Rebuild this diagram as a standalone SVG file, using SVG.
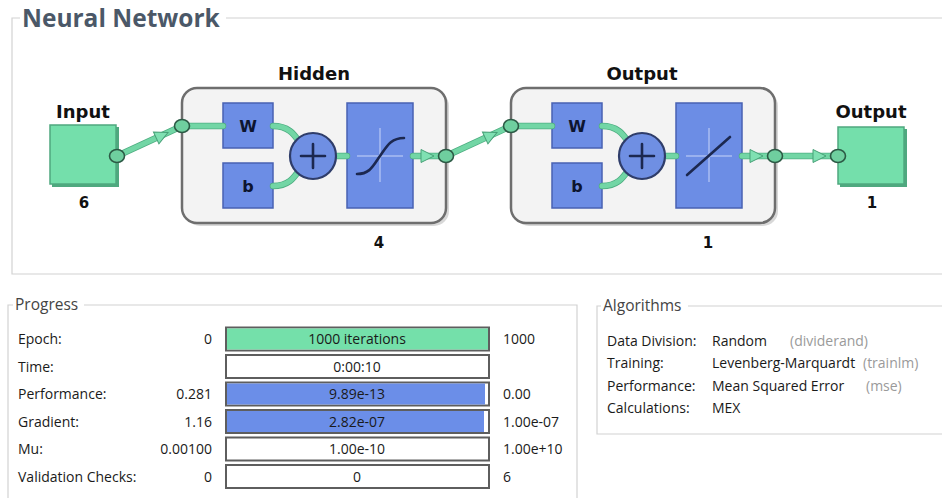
<svg xmlns="http://www.w3.org/2000/svg" width="942" height="498" viewBox="0 0 942 498">
<style>
.frame{fill:none;stroke:#d2d2d2;stroke-width:1.2}
.title{font-family:"Open Sans","Noto Sans",sans-serif;font-weight:bold;font-size:24.5px;fill:#4b5868}
.grp{font-family:"Open Sans","Noto Sans",sans-serif;font-size:15.5px;fill:#444}
.lbl{font-family:"DejaVu Sans",sans-serif;font-weight:bold;font-size:18px;fill:#111}
.num{font-family:"DejaVu Sans",sans-serif;font-weight:bold;font-size:15px;fill:#111;text-anchor:middle}
.io{fill:#74dfab;stroke:#4fa87f;stroke-width:1.5}
.layer{fill:#f3f3f3;stroke:#6e6e6e;stroke-width:2.5}
.shadow{fill:#d8d8d8}
.blue{fill:#6c8de5;stroke:#4862b3;stroke-width:1.5}
.wb{font-family:"DejaVu Sans",sans-serif;font-weight:bold;font-size:16px;fill:#0d1530;text-anchor:middle}
.sum{fill:#6f8fe3;stroke:#2f3d6a;stroke-width:2.2}
.ink{fill:none;stroke:#1c2850;stroke-width:2.6;stroke-linecap:round}
.cross{fill:none;stroke:#a9bdf2;stroke-width:1.5}
.conn{fill:none;stroke:#72d6a5;stroke-width:5;stroke-linecap:round}
.connE{fill:none;stroke:#4fae82;stroke-width:6.5;stroke-linecap:round}
.dot{fill:#6fcf9f;stroke:#2c5a45;stroke-width:1.6}
.arr{fill:#7fe0b2;stroke:#47a077;stroke-width:1}
.t{font-family:"Open Sans","Noto Sans",sans-serif;font-size:14px;fill:#1a1a1a}
.tr{font-family:"Open Sans","Noto Sans",sans-serif;font-size:14px;fill:#1a1a1a;text-anchor:end}
.tc{font-family:"Open Sans","Noto Sans",sans-serif;font-size:14px;fill:#1a1a1a;text-anchor:middle}
.tg{font-family:"Open Sans","Noto Sans",sans-serif;font-size:14px;fill:#9a9a9a}
.bar{fill:#ffffff;stroke:#5e5e5e;stroke-width:2}
.green{fill:#74e0aa}
.bfill{fill:#6b8ee8}
</style>
<defs>
<path id="ah" d="M0,0 L-13,-6.5 L-13,6.5 Z"/>
</defs>
<rect width="942" height="498" fill="#ffffff"/>

<!-- Neural Network frame -->
<g id="nn-frame">
<path class="frame" d="M20,18 H12 V274 H942 M226,18 H942"/>
<text class="title" x="22" y="27">Neural Network</text>
</g>

<!-- Input node -->
<g id="input">
<text class="lbl" x="83" y="118" text-anchor="middle">Input</text>
<rect x="52" y="127" width="67" height="60" fill="#4fa87f"/>
<rect class="io" x="50" y="125" width="66" height="59"/>
<text class="num" x="84" y="208">6</text>
</g>

<!-- Hidden layer -->
<g id="hidden">
<text class="lbl" x="314" y="80" text-anchor="middle">Hidden</text>
<rect class="shadow" x="185" y="91" width="264" height="135" rx="15"/>
<rect class="layer" x="182" y="88" width="264" height="135" rx="15"/>
<rect class="blue" x="223" y="103" width="50" height="45"/>
<text class="wb" x="248" y="132">W</text>
<rect class="blue" x="223" y="163" width="50" height="45"/>
<text class="wb" x="248" y="192">b</text>
<rect class="blue" x="347" y="103" width="66" height="105"/>
<path class="cross" d="M380,128 V182 M357,156 H403"/>
<path class="ink" d="M357,174 C370,174 373,166 380,156 S391,138 404,138"/>
<text class="num" x="379" y="248">4</text>
</g>

<!-- Output layer -->
<g id="output-layer">
<text class="lbl" x="642" y="80" text-anchor="middle">Output</text>
<rect class="shadow" x="514" y="91" width="264" height="135" rx="15"/>
<rect class="layer" x="511" y="88" width="264" height="135" rx="15"/>
<rect class="blue" x="552" y="103" width="50" height="45"/>
<text class="wb" x="577" y="132">W</text>
<rect class="blue" x="552" y="163" width="50" height="45"/>
<text class="wb" x="577" y="192">b</text>
<rect class="blue" x="676" y="103" width="66" height="105"/>
<path class="cross" d="M709,128 V182 M686,156 H732"/>
<path class="ink" d="M687,175 L730,137"/>
<text class="num" x="708" y="248">1</text>
</g>

<!-- Output node -->
<g id="output">
<text class="lbl" x="871" y="118" text-anchor="middle">Output</text>
<rect x="840" y="129" width="67" height="58" fill="#4fa87f"/>
<rect class="io" x="838" y="127" width="66" height="57"/>
<text class="num" x="872" y="208">1</text>
</g>

<!-- connectors (lines, arrowheads, summing junctions and ports) -->
<g id="connectors">
<path class="connE" d="M117,156 L182,126 M446,156 L511,126 M775,156 H838 M182,126 H223 M273,126 C290,126 295,136 300,143 M273,186 C290,186 295,176 300,169 M336,156 H347 M413,156 H446 M511,126 H552 M602,126 C619,126 624,136 629,143 M602,186 C619,186 624,176 629,169 M665,156 H676 M742,156 H775"/>
<path class="conn" d="M117,156 L182,126 M446,156 L511,126 M775,156 H838 M182,126 H223 M273,126 C290,126 295,136 300,143 M273,186 C290,186 295,176 300,169 M336,156 H347 M413,156 H446 M511,126 H552 M602,126 C619,126 624,136 629,143 M602,186 C619,186 624,176 629,169 M665,156 H676 M742,156 H775"/>
<use href="#ah" class="arr" transform="translate(168,132.5) rotate(-24.8)"/>
<use href="#ah" class="arr" transform="translate(497,132.5) rotate(-24.8)"/>
<use href="#ah" class="arr" transform="translate(434,156)"/>
<use href="#ah" class="arr" transform="translate(763,156)"/>
<use href="#ah" class="arr" transform="translate(826,156)"/>
<g id="sum-hidden">
<circle class="sum" cx="313" cy="156" r="23"/>
<path class="ink" d="M301,156 H325 M313,144 V168"/>
</g>
<g id="sum-output">
<circle class="sum" cx="642" cy="156" r="23"/>
<path class="ink" d="M630,156 H654 M642,144 V168"/>
</g>
<ellipse class="dot" cx="117" cy="156" rx="7.5" ry="6.5"/>
<ellipse class="dot" cx="182" cy="126" rx="7.5" ry="6.5"/>
<ellipse class="dot" cx="446" cy="156" rx="7.5" ry="6.5"/>
<ellipse class="dot" cx="511" cy="126" rx="7.5" ry="6.5"/>
<ellipse class="dot" cx="775" cy="156" rx="7.5" ry="6.5"/>
<ellipse class="dot" cx="838" cy="156" rx="7.5" ry="6.5"/>
</g>

<!-- Progress -->
<g id="progress">
<path class="frame" d="M13,305 H8 V498 M84,305 H577 V498"/>
<text class="grp" x="15" y="310">Progress</text>
<text class="t" x="18" y="344">Epoch:</text>
<text class="tr" x="212" y="344">0</text>
<rect class="bar" x="226" y="327.5" width="263" height="23"/>
<rect class="green" x="227" y="328.5" width="261" height="21"/>
<text class="tc" x="357" y="344">1000 iterations</text>
<text class="t" x="503" y="344">1000</text>

<text class="t" x="18" y="371.5">Time:</text>
<rect class="bar" x="226" y="355" width="263" height="23"/>
<text class="tc" x="357" y="371.5">0:00:10</text>

<text class="t" x="18" y="399">Performance:</text>
<text class="tr" x="212" y="399">0.281</text>
<rect class="bar" x="226" y="382.5" width="263" height="23"/>
<rect class="bfill" x="227" y="383.5" width="258" height="21"/>
<text class="tc" x="357" y="399">9.89e-13</text>
<text class="t" x="503" y="399">0.00</text>

<text class="t" x="18" y="426.5">Gradient:</text>
<text class="tr" x="212" y="426.5">1.16</text>
<rect class="bar" x="226" y="410" width="263" height="23"/>
<rect class="bfill" x="227" y="411" width="257" height="21"/>
<text class="tc" x="357" y="426.5">2.82e-07</text>
<text class="t" x="503" y="426.5">1.00e-07</text>

<text class="t" x="18" y="454">Mu:</text>
<text class="tr" x="212" y="454">0.00100</text>
<rect class="bar" x="226" y="437.5" width="263" height="23"/>
<text class="tc" x="357" y="454">1.00e-10</text>
<text class="t" x="503" y="454">1.00e+10</text>

<text class="t" x="18" y="481.5">Validation Checks:</text>
<text class="tr" x="212" y="481.5">0</text>
<rect class="bar" x="226" y="465" width="263" height="23"/>
<text class="tc" x="357" y="481.5">0</text>
<text class="t" x="503" y="481.5">6</text>
</g>

<!-- Algorithms -->
<g id="algorithms">
<path class="frame" d="M601,306 H597 V434 H942 M688,306 H942"/>
<text class="grp" x="603" y="311">Algorithms</text>
<text class="t" x="607" y="346">Data Division:</text>
<text class="t" x="712" y="346">Random</text>
<text class="tg" x="790" y="346">(dividerand)</text>
<text class="t" x="607" y="368">Training:</text>
<text class="t" x="712" y="368">Levenberg-Marquardt</text>
<text class="tg" x="863" y="368">(trainlm)</text>
<text class="t" x="607" y="391">Performance:</text>
<text class="t" x="712" y="391">Mean Squared Error</text>
<text class="tg" x="866" y="391">(mse)</text>
<text class="t" x="607" y="413">Calculations:</text>
<text class="t" x="712" y="413">MEX</text>
</g>
</svg>
